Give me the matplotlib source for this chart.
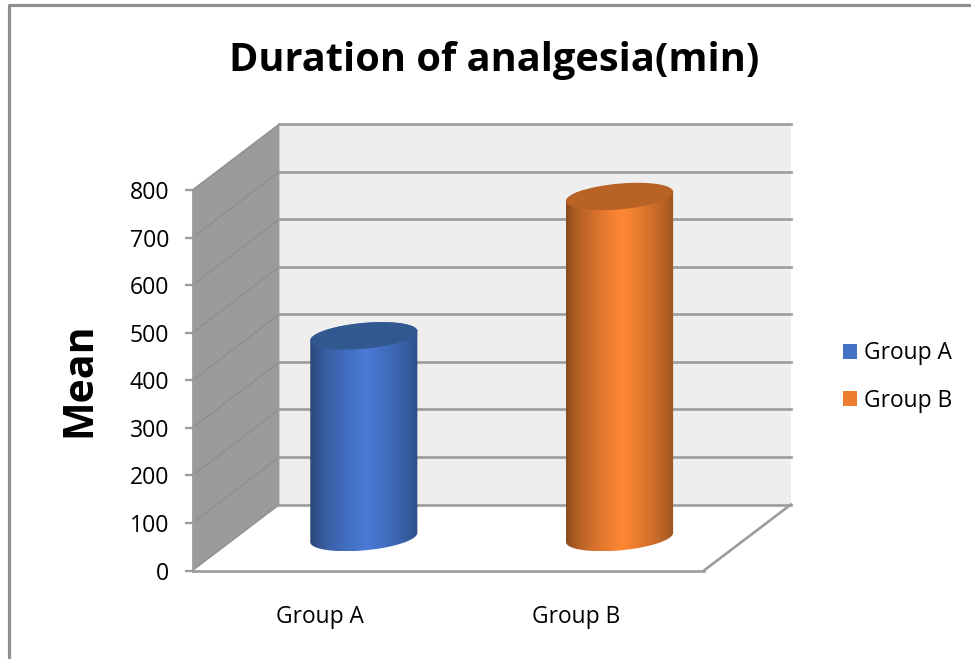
import numpy as np
import matplotlib
matplotlib.use('Agg')
import matplotlib.pyplot as plt
from matplotlib.patches import Polygon, Patch
from matplotlib.lines import Line2D

groups = ['Group A', 'Group B']
means = [424, 717]
y_ticks = [0, 100, 200, 300, 400, 500, 600, 700, 800]
bar_dark = [(0.15, 0.26, 0.45), (0.50, 0.27, 0.11)]
bar_light = [(0.29, 0.48, 0.84), (1.00, 0.53, 0.20)]
bar_top = ['#325890', '#b86226']
legend_colors = ['#4472c4', '#ed7d31']

plt.rcParams['font.family'] = ['Open Sans', 'DejaVu Sans']

W, H = 971, 659
fig = plt.figure(figsize=(W / 100, H / 100), dpi=100)
ax = fig.add_axes([192.5 / W, 1 - 570.5 / H, 511.5 / W, 380.5 / H])
ax.set_xlim(0, 2)
ax.set_ylim(0, 800)
ax.patch.set_visible(False)

# depth of the fake 3d box, in data units
DX = 87 / 256
DY = 66 / (380.5 / 800)
GRAY = '#9c9c9c'


def proj(x, y, d):
    return (x + d * DX, y + d * DY)


# outer chart frame
fig.add_artist(Line2D([8.5 / W, 8.5 / W, 1], [0, 1 - 5 / H, 1 - 5 / H], color='#909090', lw=2.3))

# walls
ax.add_patch(Polygon([proj(0, 0, 1), proj(2, 0, 1), proj(2, 800, 1), proj(0, 800, 1)],
                     fc='#eeeeee', ec='none', clip_on=False, zorder=1))
ax.add_patch(Polygon([proj(0, 0, 0), proj(0, 800, 0), proj(0, 800, 1), proj(0, 0, 1)],
                     fc='#9b9b9b', ec='none', clip_on=False, zorder=1))

for v in y_ticks:
    a = proj(0, v, 0)
    b = proj(0, v, 1)
    c = proj(2, v, 1)
    ax.plot([a[0], b[0]], [a[1], b[1]], color='#8f8f8f', lw=1.0, clip_on=False, zorder=2)
    ax.plot([b[0], c[0]], [b[1], c[1]], color=GRAY, lw=1.9, clip_on=False, zorder=2)

# floor edge on the right
a = proj(2, 0, 0)
b = proj(2, 0, 1)
ax.plot([a[0], b[0]], [a[1], b[1]], color=GRAY, lw=1.9, clip_on=False, zorder=2)

# cylinders
r_x = 0.197
r_d = 0.2077
t0 = np.arctan2(r_d * DX, r_x)
for i, val in enumerate(means):
    cx = i + 0.5

    def ell(t, y):
        px, py = proj(cx, y, 0.5)
        return np.column_stack([px + r_x * np.cos(t) + r_d * DX * np.sin(t),
                                py + r_d * DY * np.sin(t)])

    low = np.linspace(t0 + np.pi, t0 + 2 * np.pi, 80)
    up = np.linspace(t0, t0 + np.pi, 80)
    outline = np.vstack([ell(low, 0), ell(up, val)])
    x0, x1 = outline[:, 0].min(), outline[:, 0].max()
    y0, y1 = outline[:, 1].min(), outline[:, 1].max()

    # shading across the cylinder, brightest a bit right of the middle
    s = np.linspace(0, 1, 200)
    k = np.clip(1 - np.abs(s - 0.52) / 0.52, 0, 1) ** 0.6
    dark = np.array(bar_dark[i])
    light = np.array(bar_light[i])
    grad = dark + (light - dark) * k[:, None]
    im = ax.imshow(grad[None, :, :], extent=(x0, x1, y0, y1), aspect='auto', zorder=3,
                   interpolation='bilinear')
    body = Polygon(outline, transform=ax.transData, fc='none', ec='none')
    ax.add_patch(body)
    im.set_clip_path(body)
    ax.add_patch(Polygon(ell(np.linspace(0, 2 * np.pi, 160), val), fc=bar_top[i], ec='none',
                         clip_on=False, zorder=4))

ax.set_xlim(0, 2)
ax.set_ylim(0, 800)

# axes
for s in ['top', 'right']:
    ax.spines[s].set_visible(False)
for s in ['left', 'bottom']:
    ax.spines[s].set_color(GRAY)
    ax.spines[s].set_linewidth(1.9)
    ax.spines[s].set_zorder(5)
ax.set_yticks(y_ticks)
ax.tick_params(axis='y', length=5.8, width=1.7, color=GRAY, pad=11, labelsize=16.6, labelcolor='black')
ax.set_xticks([0.5, 1.5])
ax.set_xticklabels(groups)
ax.tick_params(axis='x', length=0, pad=25, labelsize=16.4)

ax.set_ylabel('Mean', fontsize=29.5, fontweight='bold', va='center')
ax.yaxis.set_label_coords((79 - 192) / 512, (570.5 - 380) / 380.5)

fig.text(494 / W, 1 - 60 / H, 'Duration of analgesia(min)', fontsize=28.6, fontweight='bold',
         ha='center', va='center')

handles = [Patch(fc=c, ec='none', label=g) for c, g in zip(legend_colors, groups)]
ax.legend(handles=handles, loc='center left', bbox_to_anchor=(836.5 / W, 1 - 377 / H),
          bbox_transform=fig.transFigure, frameon=False, fontsize=16.4,
          handlelength=0.62, handleheight=0.62, handletextpad=0.3, labelspacing=1.02,
          borderpad=0.3, borderaxespad=0)

fig.savefig('out.png', dpi=100)
